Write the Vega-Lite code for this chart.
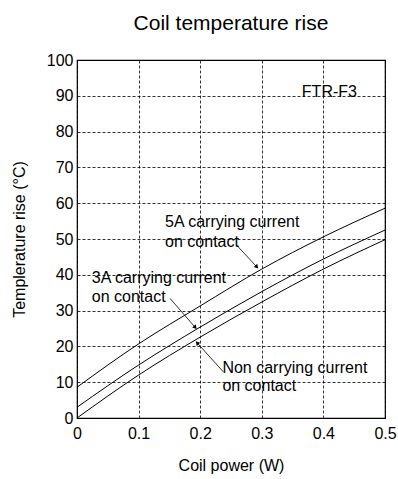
{
  "$schema": "https://vega.github.io/schema/vega-lite/v6.json",
  "autosize": {"type": "none"},
  "width": 308,
  "height": 358,
  "padding": {"left": 77, "top": 60, "right": 13, "bottom": 61},
  "background": "white",
  "title": {"text": "Coil temperature rise", "fontSize": 21, "font": "Liberation Sans", "fontWeight": "normal", "color": "black", "offset": 18, "anchor": "middle"},
  "config": {
    "view": {"stroke": "black", "strokeWidth": 1.2},
    "font": "Liberation Sans",
    "axis": {"gridColor": "black", "gridDash": [3, 2], "gridWidth": 0.8, "gridOpacity": 1, "domain": false, "ticks": false, "labelFontSize": 16, "labelColor": "black", "titleFontSize": 16, "titleFontWeight": "normal", "titleColor": "black", "labelFont": "Liberation Sans", "titleFont": "Liberation Sans", "labelOverlap": false, "labelFlush": false}
  },
  "datasets": {
    "curves": [
      {"series": "5A", "x": 0, "y": 8.6},
      {"series": "5A", "x": 0.1, "y": 20.7},
      {"series": "5A", "x": 0.2, "y": 31.3},
      {"series": "5A", "x": 0.3, "y": 41.6},
      {"series": "5A", "x": 0.4, "y": 50.6},
      {"series": "5A", "x": 0.5, "y": 58.6},
      {"series": "3A", "x": 0, "y": 3.0},
      {"series": "3A", "x": 0.1, "y": 14.8},
      {"series": "3A", "x": 0.2, "y": 25.4},
      {"series": "3A", "x": 0.3, "y": 35.3},
      {"series": "3A", "x": 0.4, "y": 44.4},
      {"series": "3A", "x": 0.5, "y": 52.5},
      {"series": "Non", "x": 0, "y": 0},
      {"series": "Non", "x": 0.1, "y": 12.0},
      {"series": "Non", "x": 0.2, "y": 22.6},
      {"series": "Non", "x": 0.3, "y": 32.4},
      {"series": "Non", "x": 0.4, "y": 41.6},
      {"series": "Non", "x": 0.5, "y": 49.8}
    ],
    "labels": [
      {"text": "5A carrying current", "x": 0.143, "y": 54.7},
      {"text": "on contact", "x": 0.143, "y": 49.2},
      {"text": "3A carrying current", "x": 0.024, "y": 39.0},
      {"text": "on contact", "x": 0.024, "y": 33.8},
      {"text": "Non carrying current", "x": 0.236, "y": 14.0},
      {"text": "on contact", "x": 0.236, "y": 8.8},
      {"text": "FTR-F3", "x": 0.365, "y": 91.2}
    ],
    "arrows": [
      {"name": "5A", "xs": 0.259, "ys": 48.3, "x": 0.292, "y": 42.2},
      {"name": "3A", "xs": 0.151, "ys": 33.4, "x": 0.192, "y": 25.3},
      {"name": "Non", "xs": 0.2375, "ys": 12.9, "x": 0.195, "y": 21.0}
    ]
  },
  "encoding": {
    "x": {"field": "x", "type": "quantitative", "scale": {"domain": [0, 0.5], "nice": false}, "axis": {"values": [0, 0.1, 0.2, 0.3, 0.4, 0.5], "format": "~g", "title": "Coil power (W)", "labelPadding": 7, "titlePadding": 16}},
    "y": {"field": "y", "type": "quantitative", "scale": {"domain": [0, 100], "nice": false}, "axis": {"values": [0, 10, 20, 30, 40, 50, 60, 70, 80, 90, 100], "format": "d", "title": "Templerature rise (°C)", "labelPadding": 4, "titlePadding": 19}}
  },
  "layer": [
    {
      "data": {"name": "curves"},
      "mark": {"type": "line", "color": "black", "strokeWidth": 1, "interpolate": "monotone"},
      "encoding": {"detail": {"field": "series"}}
    },
    {
      "data": {"name": "labels"},
      "mark": {"type": "text", "align": "left", "baseline": "middle", "fontSize": 16, "color": "black"},
      "encoding": {"text": {"field": "text"}}
    },
    {
      "data": {"name": "arrows"},
      "mark": {"type": "rule", "color": "black", "strokeWidth": 0.8},
      "encoding": {"x2": {"field": "xs"}, "y2": {"field": "ys"}}
    },
    {
      "data": {"name": "arrows"},
      "transform": [{"filter": "datum.name == '5A'"}],
      "mark": {"type": "point", "shape": "triangle-up", "filled": true, "color": "black", "size": 22, "angle": 137, "opacity": 1}
    },
    {
      "data": {"name": "arrows"},
      "transform": [{"filter": "datum.name == '3A'"}],
      "mark": {"type": "point", "shape": "triangle-up", "filled": true, "color": "black", "size": 22, "angle": 139, "opacity": 1}
    },
    {
      "data": {"name": "arrows"},
      "transform": [{"filter": "datum.name == 'Non'"}],
      "mark": {"type": "point", "shape": "triangle-up", "filled": true, "color": "black", "size": 22, "angle": 318, "opacity": 1}
    }
  ]
}
